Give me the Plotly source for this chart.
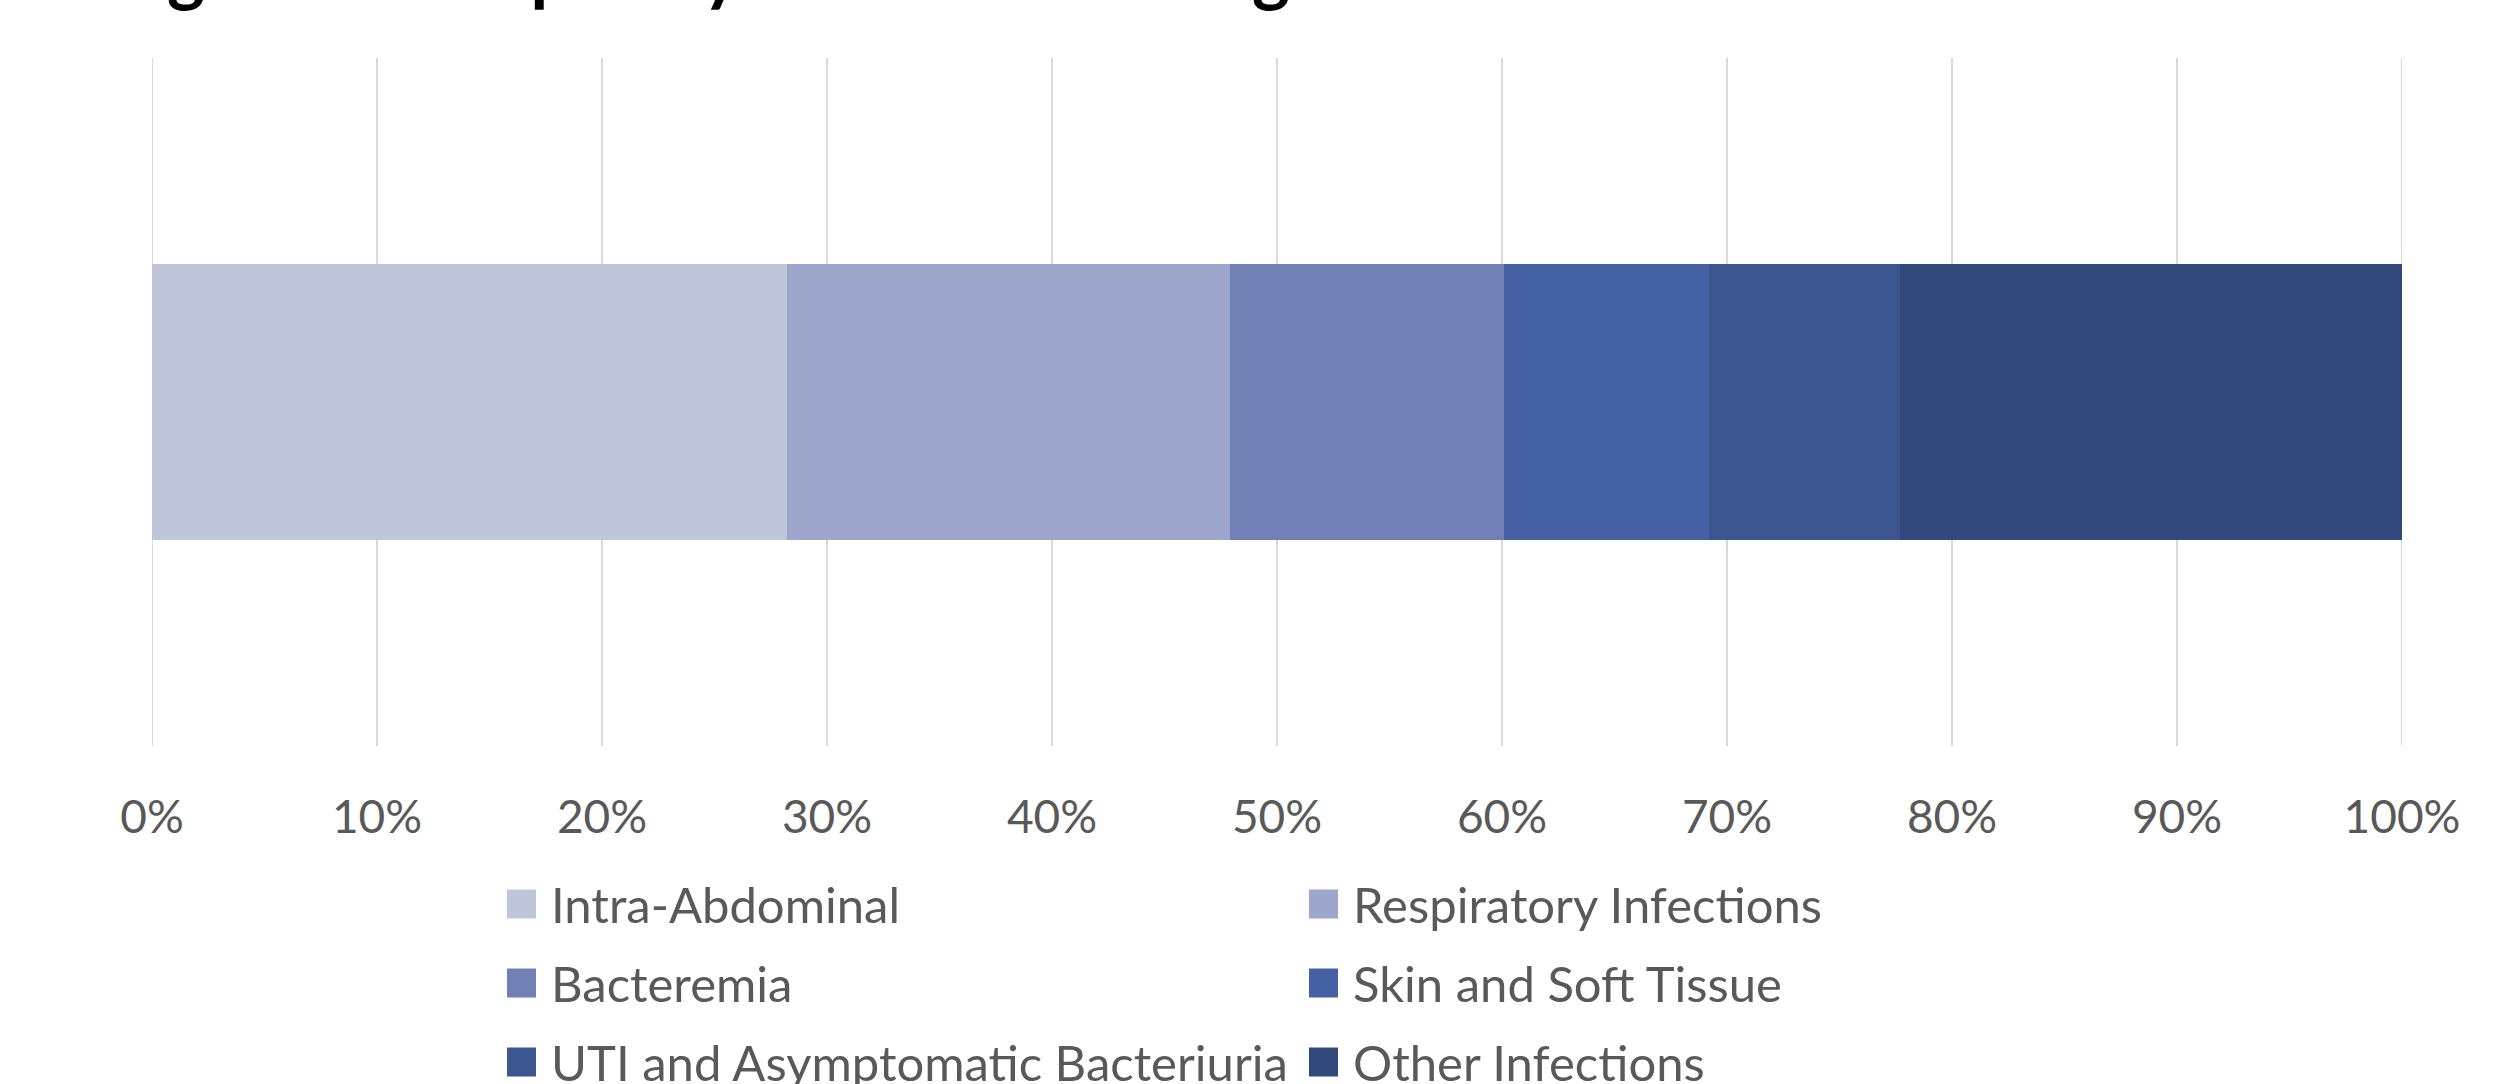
import plotly.graph_objects as go

# Share of infections by site (percent of total)
categories = [
    "Intra-Abdominal",
    "Respiratory Infections",
    "Bacteremia",
    "Skin and Soft Tissue",
    "UTI and Asymptomatic Bacteriuria",
    "Other Infections",
]
shares = [28.2, 19.7, 12.2, 9.1, 8.5, 22.3]
colors = ["#C0C6DA", "#9EA7CB", "#7080B5", "#4561A3", "#3C5690", "#32497D"]
tick_values = list(range(0, 101, 10))
tick_labels = [f"{v}%" for v in tick_values]

W, H = 2516, 1084
M_L, M_R, M_T, M_B = 152, 114, 58, 338
PW, PH = W - M_L - M_R, H - M_T - M_B

FONT = "Lato"
TEXT_COLOR = "#595959"
GRID_COLOR = "#D9D9D9"


def px_to_paper_x(px):
    return (px - M_L) / PW


def px_to_paper_y(py):
    return (H - M_B - py) / PH


fig = go.Figure()
for name, val, col in zip(categories, shares, colors):
    fig.add_trace(go.Bar(
        x=[val], y=[""], orientation="h", name=name,
        marker=dict(color=col, line=dict(width=0)),
        width=0.4, showlegend=False, hoverinfo="name+x",
    ))

# Gridlines at the two ends of the value axis
shapes = []
for v in (tick_values[0], tick_values[-1]):
    shapes.append(dict(
        type="line", xref="x", yref="paper", x0=v, x1=v, y0=0, y1=1,
        line=dict(color=GRID_COLOR, width=2), layer="below",
    ))

# Two-column legend below the axis
legend_cols_px = [507, 1309]
legend_rows_px = [904, 983, 1062]
sw = 29
annotations = []
for i, (name, col) in enumerate(zip(categories, colors)):
    cx = legend_cols_px[i % 2]
    cy = legend_rows_px[i // 2]
    shapes.append(dict(
        type="rect", xref="paper", yref="paper",
        x0=px_to_paper_x(cx), x1=px_to_paper_x(cx + sw),
        y0=px_to_paper_y(cy - sw / 2), y1=px_to_paper_y(cy + sw / 2),
        fillcolor=col, line=dict(width=0), layer="above",
    ))
    annotations.append(dict(
        xref="paper", yref="paper",
        x=px_to_paper_x(cx + sw + 13), y=px_to_paper_y(cy),
        xanchor="left", yanchor="middle", showarrow=False,
        text=name, font=dict(family=FONT, size=49, color=TEXT_COLOR),
    ))

# Chart title (sits mostly above the visible page)
annotations.append(dict(
    xref="paper", yref="paper",
    x=px_to_paper_x(106), y=px_to_paper_y(14),
    xanchor="left", yanchor="bottom", showarrow=False,
    text="<b>Figure 1: Frequency of Infection Diagnosis</b>",
    font=dict(family=FONT, size=72, color="#000000"),
))

fig.update_layout(
    width=W, height=H,
    margin=dict(l=M_L, r=M_R, t=M_T, b=M_B, pad=0),
    barmode="stack",
    bargap=0.6,
    plot_bgcolor="white", paper_bgcolor="white",
    shapes=shapes, annotations=annotations,
    showlegend=False,
    font=dict(family=FONT, color=TEXT_COLOR),
)
fig.update_xaxes(
    range=[0, 100], tickmode="array", tickvals=tick_values, ticktext=tick_labels,
    showgrid=True, gridcolor=GRID_COLOR, gridwidth=2,
    zeroline=False, showline=False, ticks="",
    tickfont=dict(family=FONT, size=46, color=TEXT_COLOR),
    ticklabelstandoff=40,
)
fig.update_yaxes(
    range=[-0.5, 0.5], showticklabels=False, showgrid=False,
    zeroline=False, showline=False,
)

fig.write_html("out.html")
